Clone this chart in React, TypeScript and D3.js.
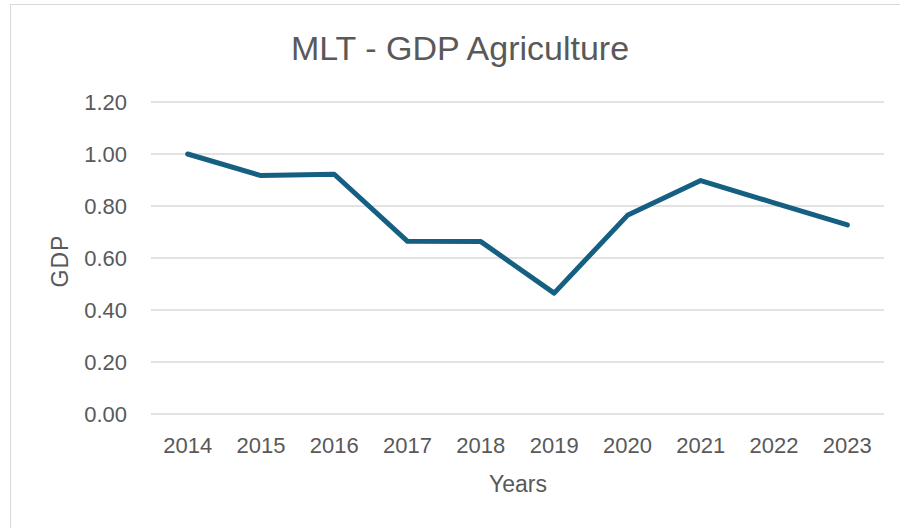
import React from "react";
import * as d3 from "d3";

const years = ["2014", "2015", "2016", "2017", "2018", "2019", "2020", "2021", "2022", "2023"];
const gdp = [1.0, 0.917, 0.922, 0.664, 0.663, 0.465, 0.764, 0.898, 0.812, 0.727];
const yTicks = [0, 0.2, 0.4, 0.6, 0.8, 1.0, 1.2];
const title = "MLT - GDP Agriculture";
const xTitle = "Years";
const yTitle = "GDP";

const W = 900;
const H = 528;
const left = 151;
const right = 884;
const top = 102;
const bottom = 414;
const textColor = "#595959";
const font = "'Liberation Sans', Arial, sans-serif";

export default function App() {
  const x = d3.scaleBand<string>().domain(years).range([left, right]);
  const y = d3.scaleLinear().domain([0, 1.2]).range([bottom, top]);
  const line = d3
    .line<number>()
    .x((_, i) => (x(years[i]) as number) + x.bandwidth() / 2)
    .y((d) => y(d));

  return (
    <svg
      width={W}
      height={H}
      style={{ position: "absolute", left: 0, top: 0, background: "#fff" }}
    >
      <rect x={10.5} y={4.5} width={W + 20} height={H + 20} fill="#fff" stroke="#d9d9d9" strokeWidth={1} />
      <text
        x={460}
        y={60}
        textAnchor="middle"
        fontFamily={font}
        fontSize={34}
        fill={textColor}
      >
        {title}
      </text>
      {yTicks.map((t) => (
        <g key={t}>
          <line x1={left} x2={right} y1={y(t)} y2={y(t)} stroke="#d9d9d9" strokeWidth={1.5} />
          <text
            x={127}
            y={y(t)}
            dy="0.36em"
            textAnchor="end"
            fontFamily={font}
            fontSize={22}
            fill={textColor}
          >
            {t.toFixed(2)}
          </text>
        </g>
      ))}
      {years.map((yr) => (
        <text
          key={yr}
          x={(x(yr) as number) + x.bandwidth() / 2}
          y={453}
          textAnchor="middle"
          fontFamily={font}
          fontSize={22}
          fill={textColor}
        >
          {yr}
        </text>
      ))}
      <path
        d={line(gdp) || ""}
        fill="none"
        stroke="#156082"
        strokeWidth={5}
        strokeLinejoin="round"
        strokeLinecap="round"
      />
      <text x={518} y={492} textAnchor="middle" fontFamily={font} fontSize={23} fill={textColor}>
        {xTitle}
      </text>
      <text
        transform={`translate(68,261) rotate(-90)`}
        textAnchor="middle"
        fontFamily={font}
        fontSize={23}
        letterSpacing={1}
        fill={textColor}
      >
        {yTitle}
      </text>
    </svg>
  );
}
